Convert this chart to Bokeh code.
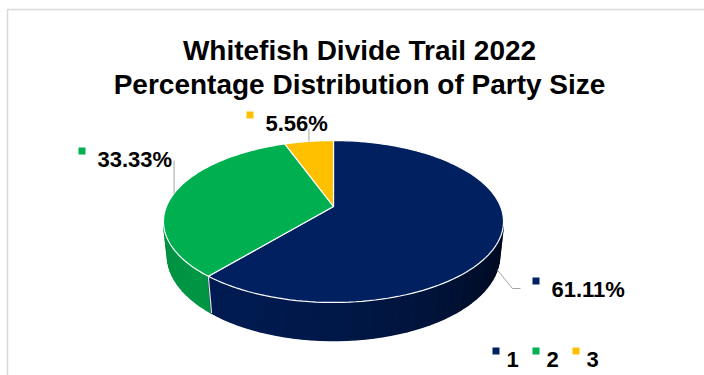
import numpy as np
from bokeh.plotting import figure
from bokeh.models import Range1d
from bokeh.core.properties import value
from bokeh.embed import file_html
from bokeh.resources import INLINE

# ---------------- data ----------------
categories = ["1", "2", "3"]
percentages = [61.11, 33.33, 5.56]
colors = ["#002060", "#00B050", "#FFC000"]
title_lines = ["Whitefish Divide Trail 2022", "Percentage Distribution of Party Size"]
label_texts = [f"{v:.2f}%" for v in percentages]

# ---------------- layout ----------------
W, H = 704, 375
FONT = value("Liberation Sans")
CX, CY = 333.0, 206.0          # projected pie centre
ALPHA = np.radians(27.9)       # viewing elevation
S, C = np.sin(ALPHA), np.cos(ALPHA)
D = 4.77                       # camera distance (radius units)
F = 797.0                      # focal scale (px)
THICK = 0.23                   # pie thickness (radius units)

p = figure(width=W, height=H, x_range=Range1d(0, W), y_range=Range1d(H, 0),
           output_backend="svg", toolbar_location=None, min_border=0,
           x_axis_type=None, y_axis_type=None)
p.outline_line_color = None
p.background_fill_color = "white"
p.border_fill_color = "white"
p.xgrid.visible = False
p.ygrid.visible = False

# chart-area frame
p.quad(left=[7], right=[712], top=[9], bottom=[390], fill_color=None,
       line_color="#d9d9d9", line_width=1.5)


def proj(theta, z):
    x = np.cos(theta)
    y = np.sin(theta)
    v = y * S + z * C
    depth = D + y * C - z * S
    return CX + F * x / depth, CY - F * v / depth


def hex_shade(hexcol, k):
    r, g, b = (int(hexcol[i:i + 2], 16) for i in (1, 3, 5))
    r, g, b = (max(0, min(255, int(round(c * k)))) for c in (r, g, b))
    return f"#{r:02x}{g:02x}{b:02x}"


vals = np.array(percentages, dtype=float)
total = vals.sum()
cum = np.concatenate([[0.0], np.cumsum(vals)]) / total
start_deg = 90.0
a_start = np.radians(start_deg - 360.0 * cum[:-1])   # clockwise
a_end = np.radians(start_deg - 360.0 * cum[1:])


def slice_of(theta):
    frac = ((np.radians(start_deg) - theta) % (2 * np.pi)) / (2 * np.pi)
    return int(np.searchsorted(cum[1:], frac, side="right").clip(0, len(vals) - 1))


# ---------------- side wall ----------------
lim = np.arcsin(1.0 / (D * C))
t0, t1 = np.pi + lim, 2 * np.pi - lim
edges = list(np.linspace(t0, t1, 60))
bounds = []
for a in a_start:
    aa = a % (2 * np.pi)
    if t0 < aa < t1:
        edges.append(aa)
        bounds.append(aa)
edges = np.array(sorted(edges))

# base fill for each slice's wall (prevents seams between strips)
for i in range(len(vals)):
    lo, hi = sorted([a_start[i] % (2 * np.pi), a_end[i] % (2 * np.pi)])
    if i == 0:
        lo, hi = a_end[i] % (2 * np.pi), t1
    lo, hi = max(lo, t0), min(hi, t1)
    if hi <= lo:
        continue
    th = np.linspace(lo, hi, 80)
    ux, uy = proj(th, 0.0)
    bx, by = proj(th[::-1], -THICK)
    k = 0.5 + 0.35 * np.cos(0.5 * (lo + hi) - np.radians(225))
    p.patch(list(ux) + list(bx), list(uy) + list(by),
            fill_color=hex_shade(colors[i], k), line_color=None)

sx, sy, scol = [], [], []
for ta, tb in zip(edges[:-1], edges[1:]):
    mid = 0.5 * (ta + tb)
    i = slice_of(mid)
    k = 0.5 + 0.35 * np.cos(mid - np.radians(225))
    xa, ya = proj(ta, 0.0)
    xb, yb = proj(tb, 0.0)
    xc, yc = proj(tb, -THICK)
    xd, yd = proj(ta, -THICK)
    sx.append([xa, xb, xc, xd])
    sy.append([ya, yb, yc, yd])
    scol.append(hex_shade(colors[i], k))
p.patches(sx, sy, fill_color=scol, line_color=scol, line_width=1.6)

for b in bounds:
    x0, y0 = proj(b, 0.0)
    x1, y1 = proj(b, -THICK)
    p.line([x0, x1], [y0, y1], line_color="#e0e0e0", line_width=1.2)

# ---------------- top faces ----------------
tx, ty = [], []
for i in range(len(vals)):
    th = np.linspace(a_start[i], a_end[i], 120)
    ex, ey = proj(th, 0.0)
    tx.append([CX] + list(ex))
    ty.append([CY] + list(ey))
p.patches(tx, ty, fill_color=colors, line_color="white", line_width=1.2)

# ---------------- data labels with leader lines ----------------
mids = 0.5 * (a_start + a_end)
label_pos = [(551, 289), (97, 159), (265, 123)]       # text left, baseline
marker_pos = [(535.5, 280.5), (81.5, 150.5), (249.5, 114.5)]
anchor_z = [-THICK, 0.0, 0.0]
leader_to = [[(512, 288), (520, 288)], [(None, 160)], [(None, 128)]]

for i in range(len(vals)):
    ax_, ay_ = proj(mids[i], anchor_z[i])
    xs, ys = [float(ax_)], [float(ay_)]
    for (lx, ly) in leader_to[i]:
        xs.append(float(ax_) if lx is None else lx)
        ys.append(ly)
    p.line(xs, ys, line_color="#a6a6a6", line_width=1)

p.scatter(x=[m[0] for m in marker_pos], y=[m[1] for m in marker_pos],
          marker="square", size=7, fill_color=colors, line_color=None)
p.text(x=[l[0] for l in label_pos], y=[l[1] for l in label_pos], text=label_texts,
       text_font=FONT, text_font_style="bold", text_font_size="22px",
       text_color="black", text_align="left", text_baseline="alphabetic")

# ---------------- legend ----------------
leg_x = [495.5 + 40 * i for i in range(len(categories))]
p.scatter(x=leg_x, y=[350.5] * len(categories), marker="square", size=7,
          fill_color=colors, line_color=None)
p.text(x=[x + 10.5 for x in leg_x], y=[358.5] * len(categories), text=categories,
       text_font=FONT, text_font_style="bold", text_font_size="22px",
       text_color="black", text_align="left", text_baseline="alphabetic")

# ---------------- title ----------------
p.text(x=[359, 359], y=[50, 84], text=title_lines, text_font=FONT,
       text_font_style="bold", text_font_size="28px", text_color="black",
       text_align="center", text_baseline="alphabetic")

open("out.html", "w").write(file_html(p, INLINE))
